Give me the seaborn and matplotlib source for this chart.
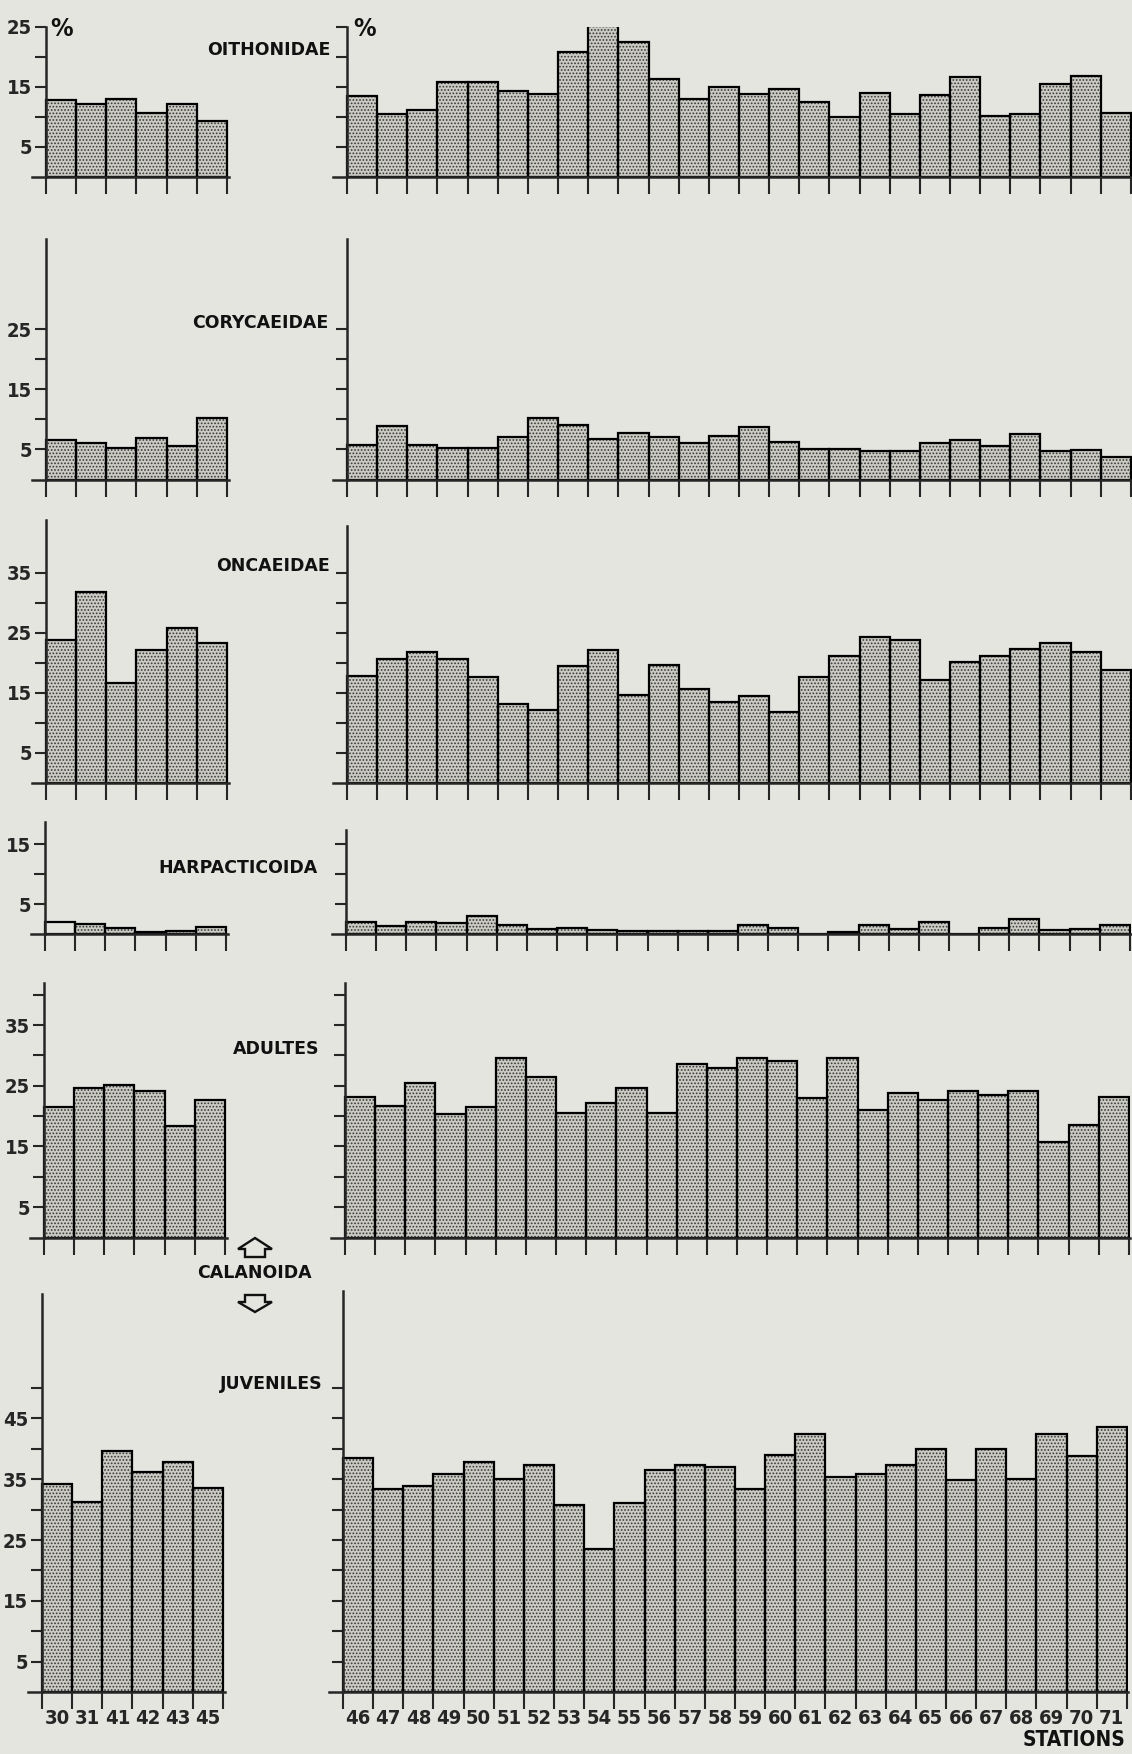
import matplotlib
matplotlib.use("Agg")
import matplotlib.pyplot as plt
from matplotlib import font_manager as fm
from matplotlib.patches import Polygon
import pandas as pd
import seaborn as sns

# ---------------- data ----------------
stations_left = ["30", "31", "41", "42", "43", "45"]
stations_right = [str(s) for s in range(46, 72)]

oithonidae_left = [12.8, 12.1, 12.9, 10.6, 12.1, 9.3]
oithonidae_right = [13.4, 10.5, 11.1, 15.7, 15.7, 14.2, 13.7, 20.8, 26.4, 22.5, 16.2, 12.9, 14.9,
                    13.8, 14.6, 12.4, 9.9, 13.9, 10.4, 13.6, 16.6, 10.1, 10.4, 15.5, 16.7, 10.6]
corycaeidae_left = [6.5, 6.0, 5.3, 6.9, 5.6, 10.2]
corycaeidae_right = [5.7, 8.9, 5.8, 5.2, 5.2, 7.1, 10.3, 9.1, 6.8, 7.8, 7.1, 6.1, 7.3,
                     8.8, 6.3, 5.0, 5.1, 4.8, 4.8, 6.0, 6.5, 5.5, 7.5, 4.8, 4.9, 3.8]
oncaeidae_left = [23.9, 31.8, 16.7, 22.2, 25.8, 23.3]
oncaeidae_right = [17.9, 20.6, 21.8, 20.6, 17.6, 13.1, 12.1, 19.5, 22.1, 14.7, 19.7, 15.7, 13.5,
                   14.5, 11.9, 17.7, 21.1, 24.4, 23.8, 17.1, 20.2, 21.2, 22.3, 23.4, 21.9, 18.9]
harpacticoida_left = [2.0, 1.7, 1.0, 0.4, 0.6, 1.3]
harpacticoida_right = [2.0, 1.4, 2.0, 1.9, 3.0, 1.5, 0.9, 1.0, 0.8, 0.5, 0.5, 0.5, 0.5,
                       1.5, 1.05, 0.0, 0.45, 1.5, 0.95, 2.0, 0.0, 1.0, 2.5, 0.7, 0.95, 1.6]
adultes_left = [21.5, 24.7, 25.1, 24.1, 18.4, 22.7]
adultes_right = [23.2, 21.6, 25.5, 20.4, 21.5, 29.6, 26.5, 20.5, 22.1, 24.6, 20.5, 28.6, 28.0,
                 29.6, 29.0, 23.0, 29.6, 21.0, 23.8, 22.7, 24.2, 23.5, 24.2, 15.7, 18.6, 23.2]
juveniles_left = [34.2, 31.2, 39.6, 36.2, 37.8, 33.5]
juveniles_right = [38.5, 33.4, 33.9, 35.9, 37.9, 35.0, 37.4, 30.7, 23.6, 31.1, 36.5, 37.3, 37.0,
                   33.4, 39.0, 42.4, 35.4, 35.8, 37.4, 40.0, 34.8, 40.0, 35.0, 42.5, 38.8, 43.6]

group_names = ["OITHONIDAE", "CORYCAEIDAE", "ONCAEIDAE", "HARPACTICOIDA", "ADULTES", "JUVENILES"]

# ---------------- style ----------------
sns.set_style("ticks")
plt.rcParams["font.family"] = ["DejaVu Sans"]
plt.rcParams["hatch.linewidth"] = 0.8

PAGE = "#e5e5df"
FACE = "#cbcbc3"
DOT = "#383838"
HATCH = "....."


def weight_num(w):
    if isinstance(w, (int, float)):
        return int(w)
    return {"bold": 700, "normal": 400, "regular": 400, "medium": 500,
            "semibold": 600, "demibold": 600, "light": 300, "black": 900,
            "heavy": 800}.get(str(w).lower(), 400)


def pick_condensed():
    cands = []
    for f in fm.fontManager.ttflist:
        nm = (f.name + " " + f.fname).lower()
        st = str(f.stretch).lower()
        if not ("narrow" in nm or "condensed" in nm or "condensed" in st):
            continue
        if str(f.style).lower() != "normal":
            continue
        cands.append((abs(weight_num(f.weight) - 700), f.fname))
    cands.sort()
    return cands[0][1] if cands else None


_cpath = pick_condensed()
if _cpath:
    COND = fm.FontProperties(fname=_cpath, size=14.5)
    PCT = fm.FontProperties(fname=_cpath, size=18)
    STAT = fm.FontProperties(fname=_cpath, size=15)
else:
    COND = fm.FontProperties(family="DejaVu Sans", weight="bold", size=12)
    PCT = fm.FontProperties(family="DejaVu Sans", size=16)
    STAT = fm.FontProperties(family="DejaVu Sans", weight="bold", size=12.5)

W, H, DPI = 1132, 1754, 100
BW = 30.15

fig = plt.figure(figsize=(W / DPI, H / DPI), dpi=DPI, facecolor=PAGE)

# layout per row (pixel geometry only)
rows = [
    dict(base=176.5, scale=6.0, top_l=25, top_r=25, tmax=25, dx=0, lab=(330, 50)),
    dict(base=479.5, scale=6.0, top_l=40, top_r=40, tmax=25, dx=0, lab=(328, 323)),
    dict(base=783.0, scale=6.0, top_l=43.8, top_r=42.8, tmax=35, dx=0, lab=(330, 566)),
    dict(base=934.3, scale=6.0, top_l=18.8, top_r=17.4, tmax=15, dx=-1, lab=(318, 868)),
    dict(base=1237.5, scale=6.07, top_l=42.0, top_r=42.0, tmax=40, dx=-2, lab=(319, 1049)),
    dict(base=1692.0, scale=6.08, top_l=65.5, top_r=66.0, tmax=50, dx=-4, lab=(323, 1384)),
]
data_left = [oithonidae_left, corycaeidae_left, oncaeidae_left,
             harpacticoida_left, adultes_left, juveniles_left]
data_right = [oithonidae_right, corycaeidae_right, oncaeidae_right,
              harpacticoida_right, adultes_right, juveniles_right]


def panel(axis_x, stations, values, base, scale, top, tmax, ylabels, xlabels, ext_l=14, ext_r=2):
    n = len(stations)
    left = axis_x - ext_l
    right = axis_x + n * BW + ext_r
    height = top * scale
    ax = fig.add_axes([left / W, 1 - base / H, (right - left) / W, height / H])
    ax.patch.set_visible(False)
    df = pd.DataFrame({"station": stations, "pct": values})
    sns.barplot(data=df, x="station", y="pct", ax=ax, width=1, color=FACE, saturation=1,
                edgecolor=DOT, linewidth=0, hatch=HATCH, errorbar=None, zorder=1)
    sns.barplot(data=df, x="station", y="pct", ax=ax, width=1, fill=False, color="black",
                linewidth=1.6, errorbar=None, zorder=2)
    ax.set_xlim(-0.5 - ext_l / BW, n - 0.5 + ext_r / BW)
    ax.set_ylim(0, top)
    ax.set_xlabel("")
    ax.set_ylabel("")
    for s in ["top", "right"]:
        ax.spines[s].set_visible(False)
    ax.spines["left"].set_position(("data", -0.5))
    ax.spines["left"].set_linewidth(1.8)
    ax.spines["bottom"].set_linewidth(1.8)
    ax.spines["left"].set_zorder(3)
    ax.spines["bottom"].set_zorder(3)

    ax.set_xticks(range(n))
    ax.set_xticks([i - 0.5 for i in range(n + 1)], minor=True)
    ax.tick_params(axis="x", which="major", length=0, pad=12, labelbottom=xlabels)
    ax.tick_params(axis="x", which="minor", length=12, width=1.5, direction="out")
    if xlabels:
        ax.set_xticklabels(stations)
        for lab in ax.get_xticklabels():
            lab.set_fontproperties(COND)

    yt = list(range(5, tmax + 1, 5))
    ax.set_yticks(yt)
    ax.tick_params(axis="y", length=8, width=1.5, direction="out", pad=2, labelleft=ylabels)
    if ylabels:
        ax.set_yticklabels([str(v) if v % 10 == 5 else "" for v in yt])
        for lab in ax.get_yticklabels():
            lab.set_fontproperties(COND)
    ax.tick_params(axis="y", which="minor", left=False)
    return ax


for i, r in enumerate(rows):
    last = i == len(rows) - 1
    axL = panel(46 + r["dx"], stations_left, data_left[i], r["base"], r["scale"],
                r["top_l"], r["tmax"], True, last)
    axR = panel(347 + r["dx"], stations_right, data_right[i], r["base"], r["scale"],
                r["top_r"], r["tmax"], False, last, ext_r=1)
    if i == 3:
        # first HARPACTICOIDA bar of the left group is drawn open in the source
        p = axL.patches[0]
        p.set_hatch(None)
        p.set_facecolor(PAGE)
    lx, ly = r["lab"]
    fig.text(lx / W, 1 - ly / H, group_names[i], ha="right", va="center",
             fontsize=12.5, fontweight="bold", color="#111111")

# percent signs
for x in (50, 353):
    fig.text(x / W, 1 - 29 / H, "%", ha="left", va="center", fontproperties=PCT, color="#111111")

# CALANOIDA with arrows
fig.text(254 / W, 1 - 1273 / H, "CALANOIDA", ha="center", va="center",
         fontsize=12.5, fontweight="bold", color="#111111")


def pxpoly(pts):
    return [(x / W, 1 - y / H) for x, y in pts]


up = pxpoly([(255, 1238), (272, 1249), (265, 1249), (265, 1257), (245, 1257), (245, 1249), (238, 1249)])
down = pxpoly([(245, 1295), (265, 1295), (265, 1302), (272, 1302), (255, 1312), (238, 1302), (245, 1302)])
for pts in (up, down):
    fig.add_artist(Polygon(pts, closed=True, transform=fig.transFigure, facecolor="none",
                           edgecolor="#111111", linewidth=1.7))

fig.text(1125 / W, 1 - 1740 / H, "STATIONS", ha="right", va="center",
         fontproperties=STAT, fontweight="bold", color="#111111")

fig.savefig("out.png", dpi=DPI, facecolor=PAGE)
